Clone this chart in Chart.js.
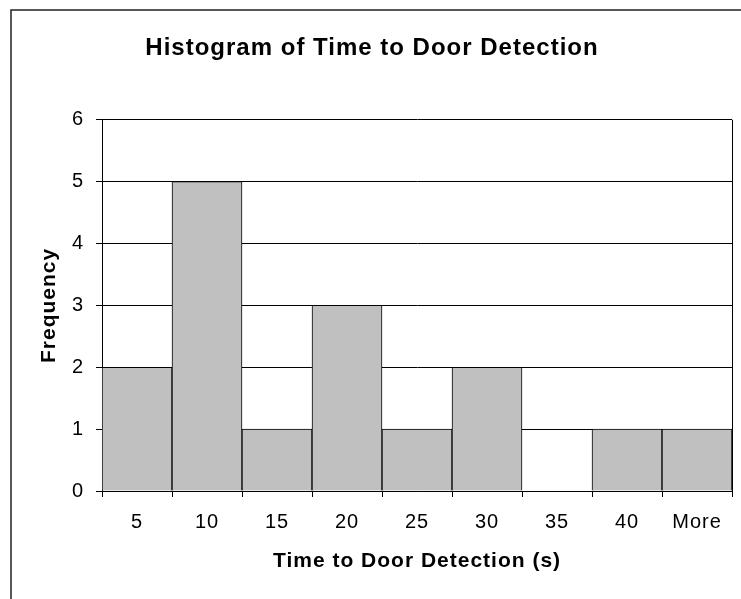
<!DOCTYPE html>
<html>
<head>
<meta charset="utf-8">
<script src="https://cdn.jsdelivr.net/npm/chart.js@4.4.1/dist/chart.umd.min.js"></script>
<style>
  html, body { margin: 0; padding: 0; background: #fff; }
  canvas { display: block; }
</style>
</head>
<body>
<canvas id="histogram" width="741" height="599"></canvas>
<script>
const binLabels = ['5', '10', '15', '20', '25', '30', '35', '40', 'More'];
const frequency = [2, 5, 1, 3, 1, 2, 0, 1, 1];
const yTicks = [0, 1, 2, 3, 4, 5, 6];

const ctxHist = document.getElementById('histogram');
const fontFamily = '"Liberation Sans", Arial, sans-serif';

// outer frame of the old excel chart + right edge of the plot area
const framePlugin = {
    id: 'frame',
    beforeLayout(chart) {
        chart.ctx.letterSpacing = '1px';
    },
    beforeDraw(chart) {
        const c = chart.ctx;
        c.letterSpacing = '1px';
        c.save();
        c.fillStyle = '#fff';
        c.fillRect(0, 0, chart.width, chart.height);
        c.strokeStyle = '#222';
        c.lineWidth = 1.5;
        c.beginPath();
        c.moveTo(11, chart.height + 5);
        c.lineTo(11, 10);
        c.lineTo(chart.width + 5, 10);
        c.stroke();
        c.restore();
    },
    afterDraw(chart) {
        const c = chart.ctx;
        const a = chart.chartArea;
        c.save();
        c.strokeStyle = '#000';
        c.lineWidth = 1;
        c.beginPath();
        c.moveTo(Math.round(a.right) + 0.5, a.top);
        c.lineTo(Math.round(a.right) + 0.5, a.bottom);
        c.stroke();
        c.restore();
    }
};

const histChart = new Chart(ctxHist, {
    type: 'bar',
    data: {
        labels: binLabels,
        datasets: [{
            label: 'Frequency',
            data: frequency,
            backgroundColor: '#c0c0c0',
            borderColor: '#000',
            borderWidth: 1,
            barPercentage: 1.0,
            categoryPercentage: 1.0
        }]
    },
    plugins: [framePlugin],
    options: {
        responsive: false,
        animation: false,
        layout: {
            padding: { left: 12, right: 9, top: 0, bottom: 0 }
        },
        plugins: {
            legend: { display: false },
            tooltip: { enabled: false },
            title: {
                display: true,
                text: 'Histogram of Time to Door Detection',
                color: '#000',
                font: { family: fontFamily, size: 24, weight: 'bold' },
                padding: { top: 34, bottom: 57 }
            }
        },
        scales: {
            x: {
                afterFit: (s) => { s.height = 108; },
                grid: {
                    offset: true,
                    drawOnChartArea: false,
                    drawTicks: true,
                    tickLength: 6,
                    color: '#000'
                },
                border: { display: true, color: '#000', width: 1 },
                ticks: {
                    color: '#000',
                    padding: 13,
                    font: { family: fontFamily, size: 20 }
                },
                title: {
                    display: true,
                    text: 'Time to Door Detection (s)',
                    color: '#000',
                    font: { family: fontFamily, size: 21, weight: 'bold' },
                    padding: { top: 0, bottom: 25 }
                }
            },
            y: {
                min: 0,
                max: 6,
                afterFit: (s) => { s.width = 90; },
                afterBuildTicks: (s) => { s.ticks = yTicks.map(v => ({ value: v })); },
                grid: {
                    color: '#000',
                    lineWidth: 1,
                    drawTicks: true,
                    tickLength: 6
                },
                border: { display: true, color: '#000', width: 1 },
                ticks: {
                    color: '#000',
                    padding: 12,
                    font: { family: fontFamily, size: 20 }
                },
                title: {
                    display: true,
                    text: 'Frequency',
                    color: '#000',
                    font: { family: fontFamily, size: 21, weight: 'bold' },
                    padding: { top: 25, bottom: 0 }
                }
            }
        }
    }
});
</script>
</body>
</html>
